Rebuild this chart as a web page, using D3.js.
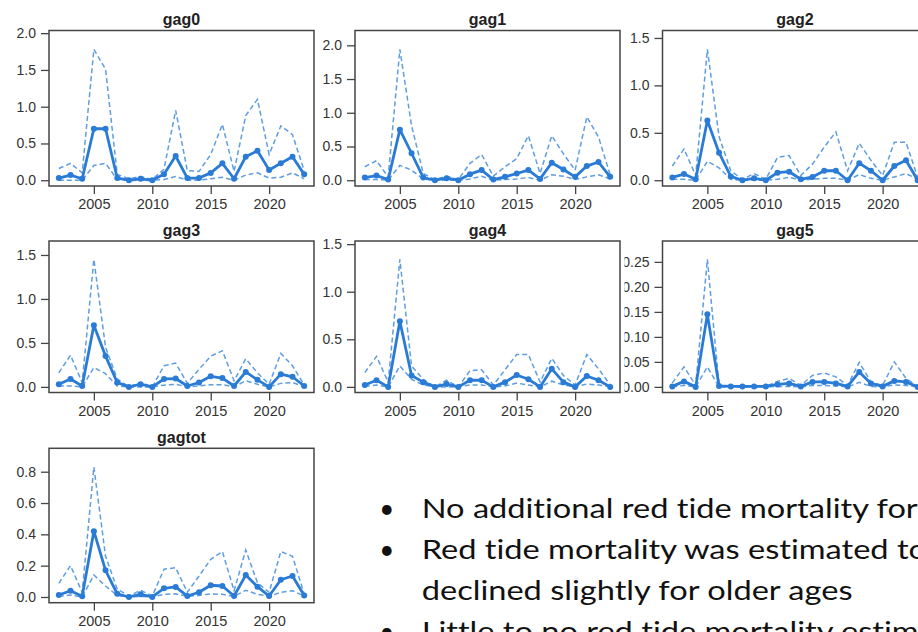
<!DOCTYPE html>
<html>
<head>
<meta charset="utf-8">
<script src="https://cdn.jsdelivr.net/npm/d3@7"></script>
<style>
  html, body { margin: 0; padding: 0; background: #fff; }
  svg { display: block; }
</style>
</head>
<body>
<svg id="chart" width="918" height="632"></svg>
<script>
// years on the x axis
const years = [2002, 2003, 2004, 2005, 2006, 2007, 2008, 2009, 2010, 2011, 2012,
  2013, 2014, 2015, 2016, 2017, 2018, 2019, 2020, 2021, 2022, 2023];
const yearTicks = [2005, 2010, 2015, 2020];

// estimate, upper and lower bound per panel
const gag0_est = [0.03, 0.07, 0.02, 0.70, 0.70, 0.03, 0.00, 0.02, 0.00, 0.08, 0.33, 0.03, 0.03, 0.10, 0.23, 0.02, 0.32, 0.40, 0.14, 0.23, 0.32, 0.08];
const gag0_hi  = [0.16, 0.23, 0.10, 1.78, 1.51, 0.08, 0.02, 0.05, 0.01, 0.15, 0.95, 0.13, 0.12, 0.35, 0.76, 0.12, 0.88, 1.10, 0.35, 0.74, 0.62, 0.13];
const gag0_lo  = [0.00, 0.00, 0.00, 0.20, 0.23, 0.01, 0.00, 0.00, 0.00, 0.01, 0.05, 0.00, 0.00, 0.02, 0.04, 0.00, 0.07, 0.10, 0.03, 0.04, 0.10, 0.02];

const gag1_est = [0.04, 0.07, 0.01, 0.75, 0.40, 0.04, 0.00, 0.03, 0.00, 0.09, 0.15, 0.01, 0.05, 0.10, 0.15, 0.02, 0.26, 0.16, 0.05, 0.21, 0.27, 0.05];
const gag1_hi  = [0.20, 0.29, 0.05, 1.94, 0.81, 0.10, 0.01, 0.06, 0.01, 0.25, 0.38, 0.06, 0.20, 0.32, 0.66, 0.10, 0.66, 0.39, 0.15, 0.94, 0.64, 0.08];
const gag1_lo  = [0.01, 0.01, 0.00, 0.22, 0.15, 0.02, 0.00, 0.00, 0.00, 0.02, 0.06, 0.00, 0.01, 0.02, 0.04, 0.00, 0.08, 0.06, 0.01, 0.05, 0.08, 0.02];

const gag2_est = [0.03, 0.065, 0.01, 0.63, 0.29, 0.04, 0.00, 0.02, 0.00, 0.08, 0.09, 0.01, 0.035, 0.10, 0.10, 0.00, 0.18, 0.10, 0.00, 0.15, 0.21, 0.00];
const gag2_hi  = [0.15, 0.33, 0.05, 1.38, 0.46, 0.10, 0.01, 0.07, 0.01, 0.24, 0.26, 0.05, 0.17, 0.35, 0.51, 0.10, 0.39, 0.21, 0.05, 0.40, 0.40, 0.03];
const gag2_lo  = [0.01, 0.01, 0.00, 0.20, 0.13, 0.01, 0.00, 0.00, 0.00, 0.01, 0.03, 0.00, 0.01, 0.02, 0.02, 0.00, 0.06, 0.02, 0.00, 0.035, 0.07, 0.01];

const gag3_est = [0.03, 0.09, 0.01, 0.70, 0.35, 0.05, 0.00, 0.03, 0.00, 0.09, 0.095, 0.01, 0.05, 0.12, 0.10, 0.01, 0.17, 0.08, 0.00, 0.145, 0.115, 0.01];
const gag3_hi  = [0.16, 0.36, 0.05, 1.45, 0.45, 0.09, 0.00, 0.05, 0.00, 0.24, 0.27, 0.04, 0.20, 0.35, 0.41, 0.07, 0.32, 0.16, 0.03, 0.38, 0.24, 0.02];
const gag3_lo  = [0.01, 0.01, 0.00, 0.22, 0.15, 0.01, 0.00, 0.00, 0.00, 0.02, 0.03, 0.00, 0.01, 0.025, 0.025, 0.00, 0.07, 0.03, 0.00, 0.04, 0.05, 0.00];

const gag4_est = [0.02, 0.07, 0.00, 0.69, 0.12, 0.05, 0.00, 0.03, 0.00, 0.07, 0.07, 0.00, 0.05, 0.125, 0.08, 0.00, 0.19, 0.05, 0.00, 0.115, 0.07, 0.00];
const gag4_hi  = [0.15, 0.32, 0.05, 1.34, 0.22, 0.08, 0.00, 0.07, 0.00, 0.17, 0.18, 0.02, 0.18, 0.34, 0.34, 0.05, 0.30, 0.12, 0.02, 0.34, 0.19, 0.02];
const gag4_lo  = [0.005, 0.02, 0.00, 0.22, 0.08, 0.02, 0.00, 0.00, 0.00, 0.02, 0.02, 0.00, 0.01, 0.04, 0.02, 0.00, 0.06, 0.02, 0.00, 0.03, 0.02, 0.00];

const gag5_est = [0.001, 0.011, 0.000, 0.145, 0.002, 0.001, 0.001, 0.001, 0.001, 0.005, 0.007, 0.001, 0.010, 0.010, 0.007, 0.001, 0.030, 0.007, 0.001, 0.012, 0.010, 0.000];
const gag5_hi  = [0.008, 0.040, 0.003, 0.255, 0.003, 0.001, 0.001, 0.001, 0.001, 0.011, 0.017, 0.003, 0.023, 0.028, 0.020, 0.003, 0.049, 0.010, 0.003, 0.050, 0.017, 0.001];
const gag5_lo  = [0.000, 0.003, 0.000, 0.040, 0.000, 0.000, 0.000, 0.000, 0.000, 0.001, 0.001, 0.000, 0.003, 0.003, 0.002, 0.000, 0.009, 0.001, 0.000, 0.004, 0.003, 0.000];

const gagtot_est = [0.013, 0.04, 0.004, 0.42, 0.17, 0.02, 0.00, 0.017, 0.00, 0.055, 0.064, 0.006, 0.03, 0.075, 0.07, 0.006, 0.14, 0.066, 0.006, 0.11, 0.134, 0.01];
const gagtot_hi  = [0.087, 0.20, 0.03, 0.83, 0.26, 0.05, 0.006, 0.043, 0.006, 0.177, 0.187, 0.03, 0.134, 0.24, 0.29, 0.04, 0.30, 0.09, 0.03, 0.29, 0.26, 0.02];
const gagtot_lo  = [0.004, 0.013, 0.00, 0.14, 0.07, 0.01, 0.00, 0.004, 0.00, 0.017, 0.02, 0.004, 0.01, 0.02, 0.017, 0.004, 0.043, 0.017, 0.004, 0.03, 0.04, 0.006];

// y tick values per panel
const ticks_2_0 = [0, 0.5, 1.0, 1.5, 2.0];
const ticks_1_5 = [0, 0.5, 1.0, 1.5];
const ticks_gag5 = [0, 0.05, 0.10, 0.15, 0.20, 0.25];
const ticks_tot = [0, 0.2, 0.4, 0.6, 0.8];

// the slide text, as far as the picture shows it
const bullets = [
  'No additional red tide mortality for',
  'Red tide mortality was estimated to',
  'declined slightly for older ages',
  'Little to no red tide mortality estim'
];
const hasBullet = [true, true, false, true];

// panel layout
const colX = [49, 355, 662.5];
const rowY = [[30.5, 186], [241, 392.5], [448.3, 602.7]];
const boxW = 265;

const panels = [
  {name: 'gag0', est: gag0_est, hi: gag0_hi, lo: gag0_lo, ticks: ticks_2_0, fmt: '.1f', col: 0, row: 0},
  {name: 'gag1', est: gag1_est, hi: gag1_hi, lo: gag1_lo, ticks: ticks_2_0, fmt: '.1f', col: 1, row: 0},
  {name: 'gag2', est: gag2_est, hi: gag2_hi, lo: gag2_lo, ticks: ticks_1_5, fmt: '.1f', col: 2, row: 0},
  {name: 'gag3', est: gag3_est, hi: gag3_hi, lo: gag3_lo, ticks: ticks_1_5, fmt: '.1f', col: 0, row: 1},
  {name: 'gag4', est: gag4_est, hi: gag4_hi, lo: gag4_lo, ticks: ticks_1_5, fmt: '.1f', col: 1, row: 1},
  {name: 'gag5', est: gag5_est, hi: gag5_hi, lo: gag5_lo, ticks: ticks_gag5, fmt: '.2f', col: 2, row: 1, clipLabels: 624.5},
  {name: 'gagtot', est: gagtot_est, hi: gagtot_hi, lo: gagtot_lo, ticks: ticks_tot, fmt: '.1f', col: 0, row: 2}
];

const mainColor = '#2a7bd5';
const ciColor = '#5f9de2';
const axisColor = '#444';
const textColor = '#333';
const tickFont = 'Liberation Sans, Arial, sans-serif';

const svg = d3.select('#chart');
const defs = svg.append('defs');

// R style limits: 4% padding around the range
const padRange = (lo, hi) => {
  const p = (hi - lo) * 0.04;
  return [lo - p, hi + p];
};

panels.forEach((p, i) => {
  const x0 = colX[p.col];
  const [top, bottom] = rowY[p.row];

  const x = d3.scaleLinear()
    .domain(padRange(d3.min(years), d3.max(years)))
    .range([x0, x0 + boxW]);

  const y = d3.scaleLinear()
    .domain(padRange(0, d3.max(p.hi) * 1.1))
    .range([bottom, top]);

  const g = svg.append('g').attr('class', 'panel ' + p.name);

  // dashed bounds
  const line = d3.line()
    .x((d, j) => x(years[j]))
    .y(d => y(d));

  [p.hi, p.lo].forEach(series => {
    g.append('path')
      .datum(series)
      .attr('d', line)
      .attr('fill', 'none')
      .attr('stroke', ciColor)
      .attr('stroke-width', 1.5)
      .attr('stroke-dasharray', '5,3');
  });

  // estimate line with points
  g.append('path')
    .datum(p.est)
    .attr('d', line)
    .attr('fill', 'none')
    .attr('stroke', mainColor)
    .attr('stroke-width', 2.8)
    .attr('stroke-linejoin', 'round');

  g.selectAll('circle.pt')
    .data(p.est)
    .join('circle')
    .attr('class', 'pt')
    .attr('cx', (d, j) => x(years[j]))
    .attr('cy', d => y(d))
    .attr('r', 3)
    .attr('fill', mainColor);

  // box
  g.append('rect')
    .attr('x', x0)
    .attr('y', top)
    .attr('width', boxW)
    .attr('height', bottom - top)
    .attr('fill', 'none')
    .attr('stroke', axisColor)
    .attr('stroke-width', 1.5);

  // x axis
  const xAxis = d3.axisBottom(x)
    .tickValues(yearTicks)
    .tickFormat(d3.format('d'))
    .tickSize(8)
    .tickPadding(5);

  const gx = g.append('g')
    .attr('transform', `translate(0,${bottom})`)
    .call(xAxis);
  gx.select('.domain').remove();
  gx.selectAll('line').attr('stroke', axisColor).attr('stroke-width', 1.3);
  gx.selectAll('text')
    .attr('fill', textColor)
    .style('font-family', tickFont)
    .style('font-size', '14.5px');

  // y axis
  const yAxis = d3.axisLeft(y)
    .tickValues(p.ticks)
    .tickFormat(d3.format(p.fmt))
    .tickSize(8)
    .tickPadding(5);

  const gy = g.append('g')
    .attr('transform', `translate(${x0},0)`)
    .call(yAxis);
  gy.select('.domain').remove();
  gy.selectAll('line').attr('stroke', axisColor).attr('stroke-width', 1.3);
  gy.selectAll('text')
    .attr('fill', textColor)
    .style('font-family', tickFont)
    .style('font-size', '14px');

  // gag5 labels run under the neighbouring box edge
  if (p.clipLabels) {
    defs.append('clipPath')
      .attr('id', 'clip' + i)
      .append('rect')
      .attr('x', p.clipLabels - x0)
      .attr('y', 0)
      .attr('width', 400)
      .attr('height', 632);
    gy.attr('clip-path', `url(#clip${i})`);
  }

  // title
  g.append('text')
    .attr('x', x0 + boxW / 2)
    .attr('y', top - 5.5)
    .attr('text-anchor', 'middle')
    .attr('fill', '#222')
    .style('font-family', tickFont)
    .style('font-weight', 'bold')
    .style('font-size', '16px')
    .text(p.name);
});

// bullet text block
const textX = 421.7;
const baselines = [518, 559, 600, 641];

const tb = svg.append('g').attr('class', 'notes');
const lines = tb.selectAll('text.note')
  .data(bullets)
  .join('text')
  .attr('class', 'note')
  .attr('x', 0)
  .attr('y', (d, i) => baselines[i])
  .attr('fill', '#111')
  .style('font-family', 'Lato, Open Sans, sans-serif')
  .style('font-size', '26px')
  .style('font-variant-ligatures', 'none')
  .text(d => d);

// stretch so the third line matches the picture width
const natural = lines.nodes()[2].getComputedTextLength();
const sx = 431 / natural;
lines.attr('transform', `translate(${textX},0) scale(${sx},1)`);

tb.selectAll('text.dot')
  .data(baselines.filter((d, i) => hasBullet[i]))
  .join('text')
  .attr('class', 'dot')
  .attr('x', 386.7)
  .attr('y', d => d)
  .attr('text-anchor', 'middle')
  .attr('fill', '#111')
  .style('font-family', 'Lato, Open Sans, sans-serif')
  .style('font-size', '26px')
  .text('•');
</script>
</body>
</html>
